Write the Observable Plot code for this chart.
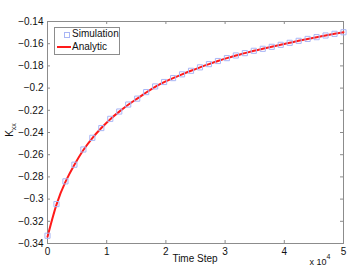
<!DOCTYPE html>
<html>
<head>
<meta charset="utf-8">
<script src="https://cdn.jsdelivr.net/npm/d3@7"></script>
<script src="https://cdn.jsdelivr.net/npm/@observablehq/plot@0.6"></script>
<style>
  html, body { margin: 0; padding: 0; background: #fff; }
  #wrap { position: relative; width: 363px; height: 272px; font-family: "Liberation Sans", Arial, sans-serif; }
  #legend { position: absolute; left: 54px; top: 26.5px; width: 64px; height: 26.5px; border: 1px solid #8c8c8c; background: #fff; font-size: 10px; color: #111; }
  .row { position: absolute; left: 0; height: 12px; line-height: 12px; }
</style>
</head>
<body>
<div id="wrap"></div>
<script>
// Time steps (x) shared by both series
const timeSteps = [0, 1515, 3030, 4545, 6061, 7576, 9091, 10606, 12121, 13636, 15152, 16667, 18182, 19697, 21212, 22727, 24242, 25758, 27273, 28788, 30303, 31818, 33333, 34848, 36364, 37879, 39394, 40909, 42424, 43939, 45455, 46970, 48485, 50000];
const simulation = [-0.3330, -0.3045, -0.2840, -0.2690, -0.2553, -0.2448, -0.2360, -0.2277, -0.2211, -0.2148, -0.2095, -0.2036, -0.1985, -0.1945, -0.1910, -0.1876, -0.1844, -0.1813, -0.1784, -0.1756, -0.1730, -0.1706, -0.1685, -0.1664, -0.1646, -0.1628, -0.1610, -0.1592, -0.1574, -0.1557, -0.1541, -0.1526, -0.1511, -0.1497];
const analytic = [-0.3340, -0.3050, -0.2845, -0.2690, -0.2558, -0.2450, -0.2360, -0.2280, -0.2212, -0.2150, -0.2095, -0.2040, -0.1988, -0.1946, -0.1910, -0.1876, -0.1844, -0.1813, -0.1784, -0.1756, -0.1730, -0.1706, -0.1685, -0.1664, -0.1646, -0.1628, -0.1610, -0.1592, -0.1574, -0.1557, -0.1541, -0.1526, -0.1511, -0.1497];
const xTicks = [0, 10000, 20000, 30000, 40000, 50000];
const yTicks = [-0.34, -0.32, -0.30, -0.28, -0.26, -0.24, -0.22, -0.20, -0.18, -0.16, -0.14];
const seriesNames = ["Simulation", "Analytic"];
const xLabel = "Time Step";

const simData = timeSteps.map((t, i) => ({t, v: simulation[i]}));
const anaData = timeSteps.map((t, i) => ({t, v: analytic[i]}));

const W = 363, H = 272;
const mTop = 21, mBottom = 29, mLeft = 47, mRight = 20;
const innerH = H - mTop - mBottom, innerW = W - mLeft - mRight;
const tickLen = 3;
const fmtY = d => String(+d.toFixed(2)).replace("-", "\u2212");

const chart = Plot.plot({
  width: W, height: H,
  marginTop: mTop, marginBottom: mBottom, marginLeft: mLeft, marginRight: mRight,
  style: {fontFamily: "Liberation Sans, Arial, sans-serif", fontSize: "10px", color: "#111", background: "#fff"},
  x: {domain: [0, 50000]},
  y: {domain: [-0.34, -0.14]},
  marks: [
    // inward ticks on all four sides
    Plot.tickX(xTicks, {x: d => d, insetTop: innerH - tickLen, stroke: "#8c8c8c"}),
    Plot.tickX(xTicks, {x: d => d, insetBottom: innerH - tickLen, stroke: "#8c8c8c"}),
    Plot.tickY(yTicks, {y: d => d, insetRight: innerW - tickLen, stroke: "#8c8c8c"}),
    Plot.tickY(yTicks, {y: d => d, insetLeft: innerW - tickLen, stroke: "#8c8c8c"}),
    Plot.axisX({ticks: xTicks, tickSize: 0, tickPadding: 4, tickFormat: d => String(d / 1e4), label: null}),
    Plot.axisY({ticks: yTicks, tickSize: 0, tickPadding: 4, tickFormat: fmtY, label: null}),
    Plot.frame({stroke: "#8c8c8c"}),
    Plot.line(anaData, {x: "t", y: "v", stroke: "#ff1a1a", strokeWidth: 2, curve: "natural"}),
    Plot.dot(simData, {x: "t", y: "v", symbol: "square", r: 2.9, stroke: "#a9b6f5", strokeWidth: 1, fill: "none"})
  ]
});

const wrap = document.getElementById("wrap");
wrap.appendChild(chart);

const svg = d3.select(chart);
const xs = chart.scale("x"), ys = chart.scale("y");
const cx = (xs.range[0] + xs.range[1]) / 2;
const cy = (ys.range[0] + ys.range[1]) / 2;

svg.append("text")
  .attr("x", cx).attr("y", 262)
  .attr("text-anchor", "middle").attr("fill", "#111").attr("font-size", 10)
  .text(xLabel);

const mult = svg.append("text")
  .attr("x", 320).attr("y", 265)
  .attr("fill", "#111").attr("font-size", 9);
mult.append("tspan").text("x 10");
mult.append("tspan").attr("dy", -6).attr("font-size", 7).text("4");

const yl = svg.append("text")
  .attr("transform", `translate(13,${cy - 2}) rotate(-90)`)
  .attr("text-anchor", "middle").attr("fill", "#111").attr("font-size", 10);
yl.append("tspan").text("K");
yl.append("tspan").attr("dy", 3).attr("font-size", 7).text("xx");

// legend
const legend = document.createElement("div");
legend.id = "legend";
legend.innerHTML = `
  <div class="row" style="top:0.5px;left:5px;width:12px;">
    <span style="position:absolute;left:4px;top:4px;width:4px;height:4px;border:1px solid #a9b6f5;"></span>
  </div>
  <div class="row" style="top:0.5px;left:17px;">${seriesNames[0]}</div>
  <div class="row" style="top:13.5px;left:2px;width:14px;">
    <span style="position:absolute;left:0;top:5px;width:14px;height:2px;background:#ff1a1a;"></span>
  </div>
  <div class="row" style="top:13.5px;left:17px;">${seriesNames[1]}</div>`;
wrap.appendChild(legend);
</script>
</body>
</html>
